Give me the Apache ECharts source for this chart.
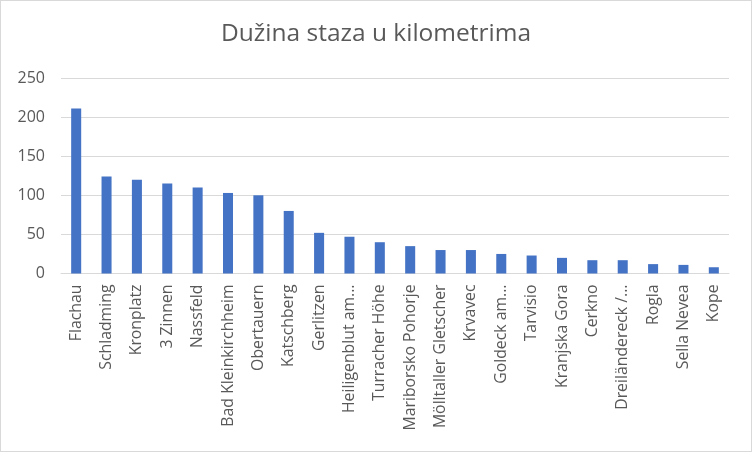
<!DOCTYPE html>
<html><head><meta charset="utf-8">
<script src="https://cdn.jsdelivr.net/npm/echarts@6/dist/echarts.min.js"></script>
<style>html,body{margin:0;padding:0;background:#fff}#c{width:750px;height:450px;border:1px solid #d9d9d9}</style>
</head><body><div id="c"></div>
<script>
const categories = ["Flachau","Schladming","Kronplatz","3 Zinnen","Nassfeld","Bad Kleinkirchheim","Obertauern","Katschberg","Gerlitzen","Heiligenblut am...","Turracher Höhe","Mariborsko Pohorje","Mölltaller Gletscher","Krvavec","Goldeck am...","Tarvisio","Kranjska Gora","Cerkno","Dreiländereck /...","Rogla","Sella Nevea","Kope"];
const lengths = [211,124,120,115,110,103,100,80,52,47,40,35,30,30,25,23,20,17,17,12,11,8];
const yTicks = [0,50,100,150,200,250];
const chart = echarts.init(document.getElementById('c'));
const txt = '#595959';
const ff = '"Open Sans", sans-serif';
chart.setOption({
  animation:false,
  title:{text:'Dužina staza u kilometrima',left:'center',top:16,textStyle:{color:txt,fontSize:24.5,fontWeight:'normal',fontFamily:ff}},
  grid:{left:60,right:22,top:77,bottom:177.5,containLabel:false},
  xAxis:{type:'category',data:categories,
    axisLine:{lineStyle:{color:'#d9d9d9',width:1}},axisTick:{show:false},
    axisLabel:{rotate:90,interval:0,color:txt,fontSize:15.8,fontFamily:ff,margin:11}},
  yAxis:{type:'value',min:yTicks[0],max:yTicks[yTicks.length-1],interval:50,
    axisLine:{show:false},axisTick:{show:false},
    splitLine:{lineStyle:{color:'#d9d9d9',width:1}},
    axisLabel:{color:txt,fontSize:16,fontFamily:ff,margin:16}},
  series:[{type:'bar',data:lengths,barWidth:'33%',itemStyle:{color:'#4472c4'}}]
});
</script></body></html>
